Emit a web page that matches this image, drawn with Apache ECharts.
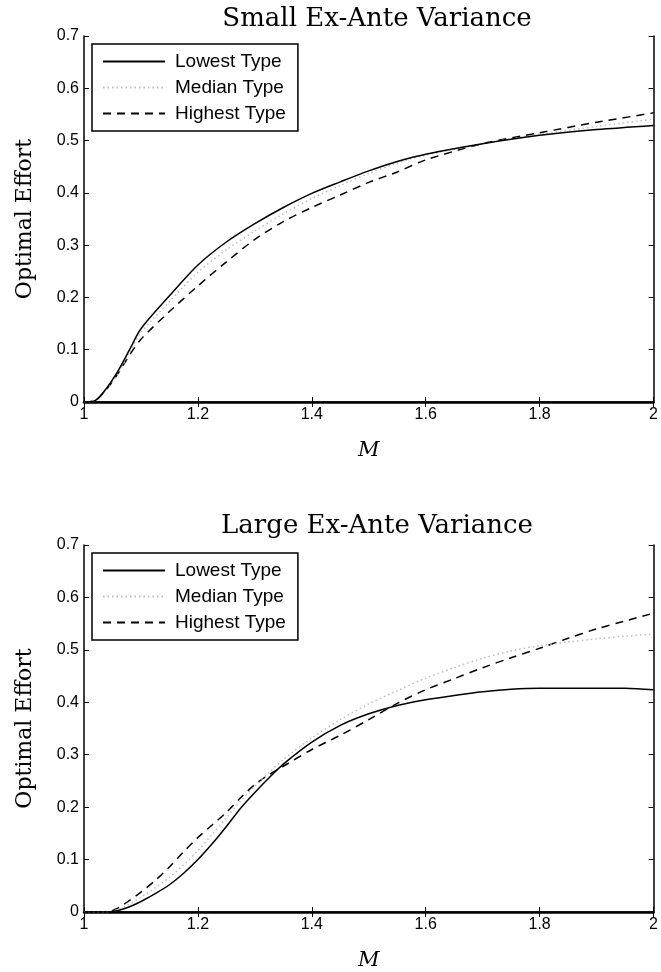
<!DOCTYPE html>
<html>
<head>
<meta charset="utf-8">
<script src="https://cdn.jsdelivr.net/npm/echarts@6/dist/echarts.min.js"></script>
<style>html,body{margin:0;padding:0;background:#fff}#c{width:661px;height:972px}</style>
</head>
<body>
<div id="c"></div>
<script>
const titles = ['Small Ex-Ante Variance', 'Large Ex-Ante Variance'];
const seriesNames = ['Lowest Type', 'Median Type', 'Highest Type'];
const xTicks = [1, 1.2, 1.4, 1.6, 1.8, 2];
const yTicks = [0, 0.1, 0.2, 0.3, 0.4, 0.5, 0.6, 0.7];

const mTop = [1, 1.02, 1.04, 1.06, 1.08, 1.1, 1.15, 1.2, 1.25, 1.3, 1.35, 1.4, 1.45, 1.5, 1.55, 1.6, 1.7, 1.8, 1.9, 2.0];
const lowTop = [0, 0.003, 0.027, 0.06, 0.1, 0.14, 0.203, 0.262, 0.306, 0.341, 0.372, 0.399, 0.421, 0.442, 0.46, 0.474, 0.494, 0.51, 0.521, 0.529];
const medTop = [0, 0.003, 0.025, 0.055, 0.095, 0.133, 0.192, 0.248, 0.291, 0.327, 0.36, 0.389, 0.414, 0.437, 0.457, 0.472, 0.494, 0.512, 0.527, 0.541];
const highTop = [0, 0.003, 0.025, 0.055, 0.09, 0.12, 0.173, 0.222, 0.268, 0.311, 0.345, 0.372, 0.396, 0.42, 0.44, 0.463, 0.494, 0.515, 0.535, 0.553];

const mBot = [1, 1.04, 1.06, 1.08, 1.1, 1.125, 1.15, 1.175, 1.2, 1.225, 1.25, 1.275, 1.3, 1.325, 1.35, 1.4, 1.45, 1.5, 1.55, 1.6, 1.65, 1.7, 1.75, 1.8, 1.85, 1.9, 1.95, 2.0];
const lowBot = [0, 0, 0.003, 0.01, 0.02, 0.035, 0.052, 0.074, 0.1, 0.13, 0.163, 0.198, 0.228, 0.256, 0.282, 0.324, 0.356, 0.378, 0.394, 0.405, 0.413, 0.42, 0.425, 0.427, 0.427, 0.427, 0.427, 0.424];
const medBot = [0, 0, 0.005, 0.015, 0.028, 0.046, 0.066, 0.09, 0.117, 0.148, 0.18, 0.212, 0.24, 0.266, 0.291, 0.332, 0.367, 0.397, 0.422, 0.446, 0.466, 0.484, 0.498, 0.508, 0.515, 0.521, 0.526, 0.53];
const highBot = [0, 0, 0.008, 0.022, 0.038, 0.06, 0.086, 0.115, 0.142, 0.166, 0.19, 0.218, 0.243, 0.262, 0.278, 0.31, 0.337, 0.367, 0.398, 0.424, 0.445, 0.466, 0.485, 0.503, 0.522, 0.54, 0.555, 0.57];

const zip = (xs, ys) => xs.map((x, i) => [x, ys[i]]);
const chart = echarts.init(document.getElementById('c'));

const grids = [
  {left: 84, right: 6, top: 36, height: 366},
  {left: 84, right: 6, top: 545, height: 367}
];
const titleTops = [1, 508];
const serif = 'DejaVu Serif';
const sans = 'Liberation Sans';

const xAxes = [], yAxes = [], series = [], legends = [], titleArr = [];
grids.forEach((g, gi) => {
  const common = {gridIndex: gi, type: 'value', min: 1, max: 2, interval: 0.2,
    splitLine: {show: false},
    axisTick: {inside: true, length: 5, lineStyle: {color: '#000'}}};
  xAxes.push(Object.assign({}, common, {position: 'bottom',
    axisLine: {lineStyle: {color: '#000', width: 2.5}},
    name: 'M', nameLocation: 'middle', nameGap: 38,
    nameTextStyle: {fontFamily: serif, fontStyle: 'italic', fontSize: 21, color: '#000'},
    axisLabel: {color: '#000', fontFamily: sans, fontSize: 16, margin: 5,
      formatter: v => xTicks.includes(+v.toFixed(1)) ? String(+v.toFixed(1)) : ''}}));
  xAxes.push(Object.assign({}, common, {position: 'top',
    axisLine: {lineStyle: {color: '#000', width: 1.5}}, axisLabel: {show: false}}));
  const ycommon = {gridIndex: gi, type: 'value', min: 0, max: 0.7, interval: 0.1,
    splitLine: {show: false},
    axisLine: {show: true, lineStyle: {color: '#000', width: 1.5}},
    axisTick: {show: true, inside: true, length: 5, lineStyle: {color: '#000'}}};
  yAxes.push(Object.assign({}, ycommon, {position: 'left',
    name: 'Optimal Effort', nameLocation: 'middle', nameGap: 48,
    nameTextStyle: {fontFamily: serif, fontSize: 22, color: '#000'},
    axisLabel: {color: '#000', fontFamily: sans, fontSize: 16, margin: 5,
      formatter: v => String(+v.toFixed(1))}}));
  yAxes.push(Object.assign({}, ycommon, {position: 'right', axisLabel: {show: false}}));

  const ms = gi === 0 ? mTop : mBot;
  const vals = gi === 0 ? [lowTop, medTop, highTop] : [lowBot, medBot, highBot];
  const styles = [
    {color: '#000', width: 1.5, type: 'solid'},
    {color: '#bdbdbd', width: 1.5, type: [1.5, 3]},
    {color: '#000', width: 1.5, type: [8, 6]}
  ];
  seriesNames.forEach((n, si) => {
    series.push({name: n, type: 'line', xAxisIndex: gi * 2, yAxisIndex: gi * 2,
      data: zip(ms, vals[si]), smooth: 0.3, symbol: 'none', showSymbol: false,
      color: styles[si].color, lineStyle: styles[si], z: 3 - si});
  });
  legends.push({orient: 'vertical', left: 92, top: g.top + 8,
    data: seriesNames, itemWidth: 62, itemHeight: 12, itemGap: 7,
    itemStyle: {opacity: 0},
    padding: [8, 12, 8, 10], borderColor: '#000', borderWidth: 1.5, backgroundColor: '#fff',
    textStyle: {fontFamily: sans, fontSize: 19, color: '#000', padding: [0, 0, 0, 5]}, selectedMode: false});
  titleArr.push({text: titles[gi], left: 372, textAlign: 'center', top: titleTops[gi],
    textStyle: {fontFamily: serif, fontSize: 26, fontWeight: 'normal', color: '#000'}});
});

chart.setOption({
  animation: false,
  backgroundColor: '#fff',
  title: titleArr,
  grid: grids,
  xAxis: xAxes,
  yAxis: yAxes,
  legend: legends,
  series: series
});
</script>
</body>
</html>
